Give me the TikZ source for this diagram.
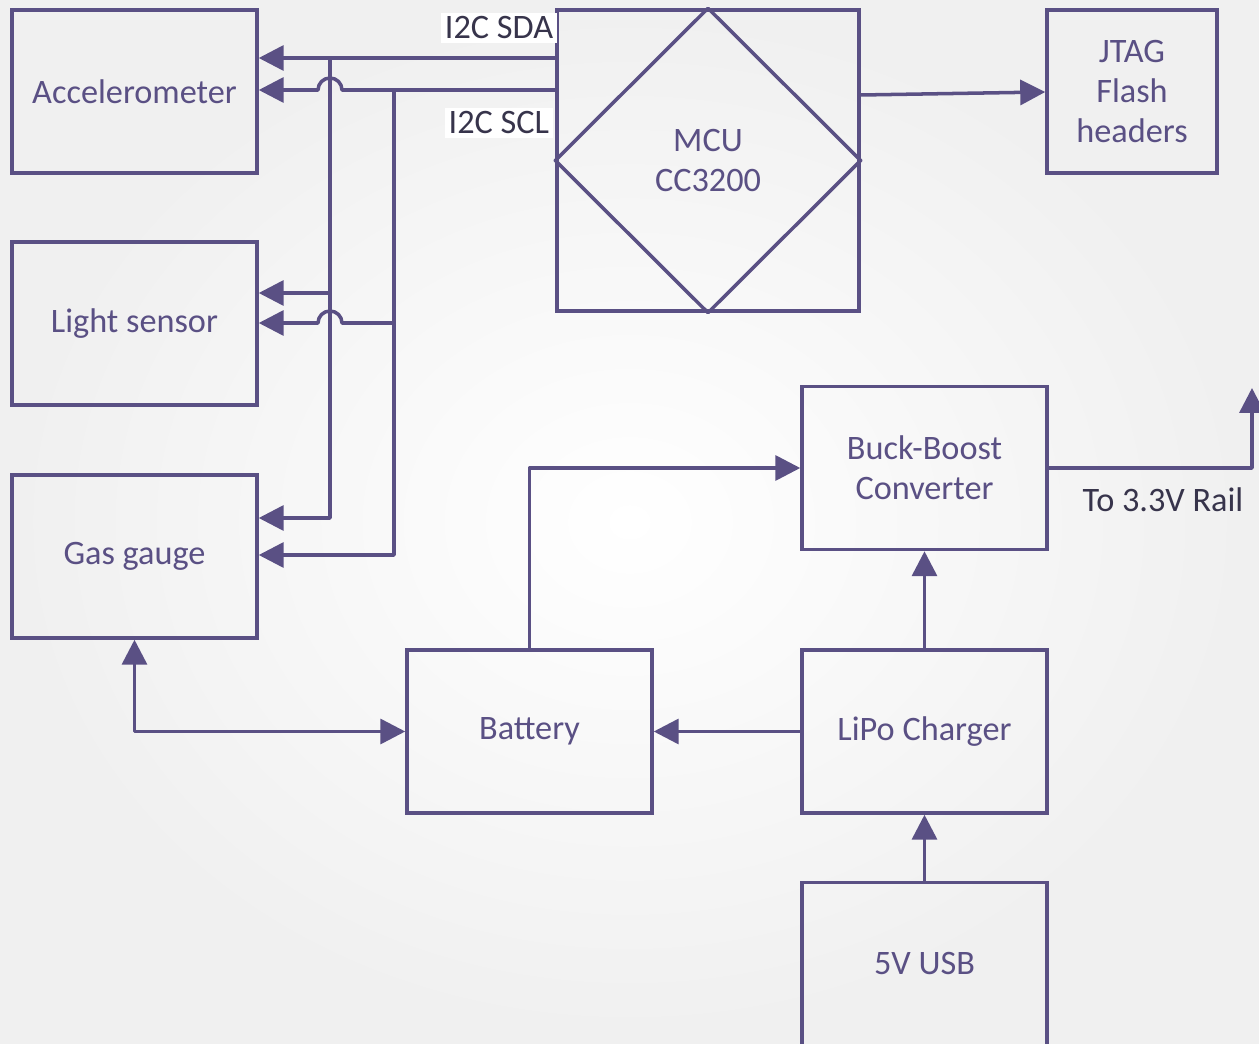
\documentclass[tikz,border=0pt]{standalone}
\usepackage{fontspec}
\setmainfont{Carlito}
\usepackage{tikz}
\usetikzlibrary{positioning, arrows.meta}

\definecolor{ink}{RGB}{90,80,132}
\definecolor{labelink}{RGB}{55,52,75}

\begin{document}
\begin{tikzpicture}[
            x = 0.02cm, y = -0.02cm,
            >={Triangle[length=0.5cm, width=0.5cm]},
            block/.style = {
                draw = ink,
                line width = 2pt,
                rectangle,
                align = center,
                text = ink,
                minimum width = 4.9cm,
                minimum height = 3.26cm,
                inner sep = 0pt,
                font = \fontsize{19.5}{22.8}\selectfont
            },
            wire/.style = {
                draw = ink,
                line width = 2pt,
                line join = round
            },
            buslabel/.style = {
                fill = white,
                text = labelink,
                inner sep = 2pt,
                font = \fontsize{19.5}{22}\selectfont
            }
        ]
            % background
            \shade[inner color = white, outer color = gray!12] (0,0) rectangle (1259,1044);
            \useasboundingbox (0,0) rectangle (1259,1044);

            % blocks
            \node[block] (acc) at (134.5,91.5) {Accelerometer};
            \node[block] (light) at (134.5,323.5) {Light sensor};
            \node[block] (gas) at (134.5,556.5) {Gas gauge};
            \node[block, minimum width = 6.04cm, minimum height = 6.02cm] (mcu) at (708,160.5) {MCU \\ CC3200};
            \node[block, minimum width = 3.4cm] (jtag) at (1132,91.5) {JTAG \\ Flash \\ headers};
            \node[block] (buck) at (924.5,468) {Buck-Boost \\ Converter};
            \node[block] (bat) at (529.5,731.5) {Battery};
            \node[block] (lipo) at (924.5,731.5) {LiPo Charger};
            \node[block] (usb) at (924.5,964) {5V USB};

            \draw[wire] (mcu.north) -- (mcu.east) -- (mcu.south) -- (mcu.west) -- cycle;

            % I2C bus
            \node[buslabel, anchor = east] (sdalabel) at (557,28) {I2C SDA};
            \node[buslabel, anchor = east] (scllabel) at (553,123) {I2C SCL};

            \draw[wire, ->] (mcu.west |- 0,58) -- (acc.east |- 0,58);
            \draw[wire, ->] (330,58) |- (gas.east |- 0,518);
            \draw[wire, ->] (330,293) -- (light.east |- 0,293);

            \draw[wire, ->] (mcu.west |- 0,90) -- (342,90)
                arc[start angle = 0, end angle = -180, radius = 12] -- (acc.east |- 0,90);
            \draw[wire, ->] (394,90) |- (gas.east |- 0,555);
            \draw[wire, ->] (394,323) -- (342,323)
                arc[start angle = 0, end angle = -180, radius = 12] -- (light.east |- 0,323);

            % debug header
            \draw[wire, ->] (mcu.east |- 0,95) -- (jtag.west |- 0,92);

            % power path
            \coordinate (rail) at (1252,388);
            \draw[wire, ->] (buck.east) -| (rail);
            \node[buslabel, fill = none] (raillabel) at (1163,500) {To 3.3V Rail};
            \draw[wire, ->] (bat.north) |- (buck.west);
            \draw[wire, ->] (lipo.north) -- (buck.south);
            \draw[wire, ->] (lipo.west) -- (bat.east);
            \draw[wire, ->] (usb.north) -- (lipo.south);
            \draw[wire, <->] (gas.south) |- (bat.west);
        \end{tikzpicture}
\end{document}
